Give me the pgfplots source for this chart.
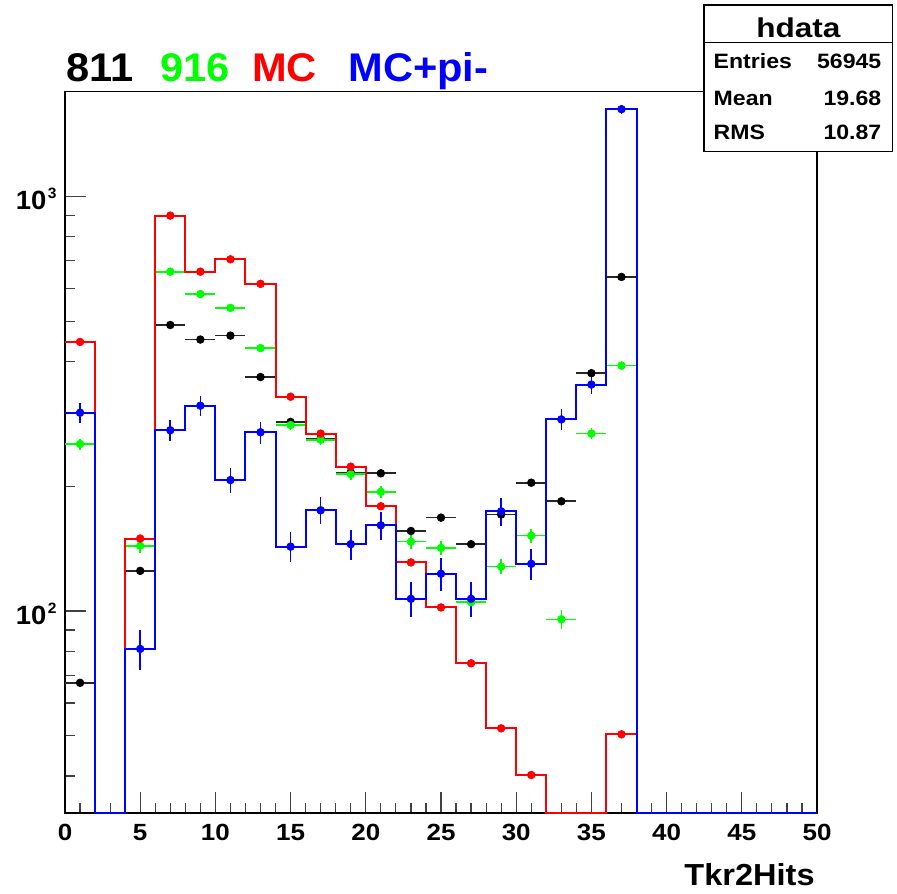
\documentclass[border=0pt]{standalone}
\usepackage{pgfplots}
\pgfplotsset{compat=1.18}
\usepackage{fontspec}
\setmainfont{Liberation Sans}
\newfontfamily\fA[FakeStretch=1.04]{Liberation Sans}
\newfontfamily\fB[FakeStretch=1.11]{Liberation Sans}
\newfontfamily\fC[FakeStretch=1.07]{Liberation Sans}
\newfontfamily\fD[FakeStretch=1.16]{Liberation Sans}
\definecolor{hred}{rgb}{1,0,0}
\definecolor{hblue}{rgb}{0,0,1}
\definecolor{hgreen}{rgb}{0,1,0}
\begin{document}
\begin{tikzpicture}
\begin{axis}[
  at={(0,0)}, anchor=south west,
  scale only axis, width=376pt, height=360.8pt,
  xmin=0, xmax=50, ymode=log, ymin=32.5, ymax=1792,
  clip=false,
  axis line style={line width=0.8pt},
  tick align=inside, xtick pos=left, ytick pos=left,
  xtick={0,5,10,15,20,25,30,35,40,45,50}, minor x tick num=4,
  xticklabels={0,5,10,15,20,25,30,35,40,45,50},
  ytick={100,1000},
  minor ytick={40,50,60,70,80,90,200,300,400,500,600,700,800,900},
  yticklabels={{10\kern0.8pt\raisebox{5.6pt}{\fontsize{7.5}{7.5}\selectfont 2}},{10\kern0.8pt\raisebox{5.6pt}{\fontsize{7.5}{7.5}\selectfont 3}}},
  major tick length=10.75pt, minor tick length=5.25pt,
  tick style={black!75, line width=0.6pt},
  xticklabel style={font=\fB\bfseries\fontsize{11.7}{12}\selectfont, anchor=north, inner sep=0pt, yshift=-5.35pt},
  yticklabel style={font=\fA\bfseries\fontsize{13.2}{13}\selectfont, anchor=base east, inner sep=0pt, xshift=-4pt, yshift=-6.65pt},
]
% 811 (black data points)
\addplot[only marks, mark=*, mark size=1.9pt, black,
  error bars/.cd, x dir=both, x fixed=1, y dir=both, y explicit, error mark=none,
  error bar style={line width=0.8pt, black!85}]
  table[x=x, y=y, y error=ey] {
x y ey
1 67.1 1.15
5 125 1.57
7 490 3.10
9 452 2.98
11 462 3.01
13 367 2.68
15 286 2.37
17 261 2.26
19 216 2.06
21 215 2.05
23 156 1.75
25 168 1.81
27 145 1.69
29 171 1.83
31 204 2.00
33 184 1.90
35 375 2.71
37 640 3.54
};
% 916 (green data points)
\addplot[only marks, mark=*, mark size=1.9pt, hgreen,
  error bars/.cd, x dir=both, x fixed=1, y dir=both, y explicit, error mark=none,
  error bar style={line width=0.8pt, hgreen}]
  table[x=x, y=y, y error=ey] {
x y ey
1 253 7.8
5 143.7 5.9
7 659 12.6
9 582 11.8
11 539 11.4
13 431 10.2
15 281 8.2
17 259 7.9
19 214 7.2
21 194 6.8
23 147 5.9
25 142 5.8
27 105 5.0
29 128 5.5
31 152 6.0
33 95.5 4.8
35 268 8.0
37 391 9.7
};
% MC (red histogram)
\addplot[draw=hred, line width=1pt, const plot, mark=none] coordinates {
(0,446)(2,32.5)(4,149.6)(6,900)(8,659)(10,706)(12,616)(14,329)(16,268)(18,223)
(20,179)(22,131)(24,102)(26,74.8)(28,52.1)(30,40.2)(32,32.5)(34,32.5)(36,50.4)(38,32.5)(50,32.5)};
\addplot[only marks, mark=*, mark size=1.9pt, hred,
  error bars/.cd, y dir=both, y explicit, error mark=none,
  error bar style={line width=0.8pt, hred}]
  table[x=x, y=y, y error=ey] {
x y ey
1 446 2.1
5 149.6 1.2
7 900 3.0
9 659 2.6
11 706 2.7
13 616 2.5
15 329 1.8
17 268 1.6
19 223 1.5
21 179 1.3
23 131 1.1
25 102 1.0
27 74.8 0.87
29 52.1 0.72
31 40.2 0.64
37 50.4 0.71
};
% MC+pi- (blue histogram)
\addplot[draw=hblue, line width=1pt, const plot, mark=none] coordinates {
(0,301)(2,32.5)(4,81)(6,273)(8,313)(10,207)(12,270)(14,143)(16,175)(18,145)
(20,161)(22,107)(24,123)(26,107)(28,174)(30,130)(32,290)(34,352)(36,1626)(38,32.5)(50,32.5)};
\addplot[only marks, mark=*, mark size=1.9pt, hblue,
  error bars/.cd, y dir=both, y explicit, error mark=none,
  error bar style={line width=0.8pt, hblue}]
  table[x=x, y=y, y error=ey] {
x y ey
1 301 17.3
5 81 9.0
7 273 16.5
9 313 17.7
11 207 14.4
13 270 16.4
15 143 12.0
17 175 13.2
19 145 12.0
21 161 12.7
23 107 10.3
25 123 11.1
27 107 10.3
29 174 13.2
31 130 11.4
33 290 17.0
35 352 18.8
37 1626 40.3
};
\end{axis}
% title
\node[anchor=base west, inner sep=0pt, font=\fA\bfseries\fontsize{20}{20}\selectfont, black] at (0.5pt,365.8pt) {811};
\node[anchor=base west, inner sep=0pt, font=\fA\bfseries\fontsize{20}{20}\selectfont, hgreen] at (47.65pt,365.8pt) {916};
\node[anchor=base west, inner sep=0pt, font=\fA\bfseries\fontsize{20}{20}\selectfont, hred] at (93.45pt,365.8pt) {MC};
\node[anchor=base west, inner sep=0pt, font=\fA\bfseries\fontsize{20}{20}\selectfont, hblue] at (141.5pt,365.8pt) {MC+pi-};
% x label
\node[anchor=base east, inner sep=0pt, font=\fC\bfseries\fontsize{15.2}{15}\selectfont] at (375pt,-35.85pt) {Tkr2Hits};
% stats box
\draw[fill=white, line width=0.6pt] (319.5pt,330.8pt) rectangle (413.85pt,404.15pt);
\draw[line width=0.6pt] (319.5pt,385.3pt) -- (413.85pt,385.3pt);
\node[anchor=base, inner sep=0pt, font=\fD\bfseries\fontsize{13.6}{13}\selectfont] at (366.7pt,388pt) {hdata};
\node[anchor=base west, inner sep=0pt, font=\fB\bfseries\fontsize{10.4}{10}\selectfont] at (324.15pt,372.15pt) {Entries};
\node[anchor=base east, inner sep=0pt, font=\fB\bfseries\fontsize{10.4}{10}\selectfont] at (408.35pt,372.15pt) {56945};
\node[anchor=base west, inner sep=0pt, font=\fB\bfseries\fontsize{10.4}{10}\selectfont] at (324.15pt,353.65pt) {Mean};
\node[anchor=base east, inner sep=0pt, font=\fB\bfseries\fontsize{10.4}{10}\selectfont] at (408.35pt,353.65pt) {19.68};
\node[anchor=base west, inner sep=0pt, font=\fB\bfseries\fontsize{10.4}{10}\selectfont] at (324.15pt,337pt) {RMS};
\node[anchor=base east, inner sep=0pt, font=\fB\bfseries\fontsize{10.4}{10}\selectfont] at (408.35pt,337pt) {10.87};
\pgfresetboundingbox
\useasboundingbox (-32.5pt,-39.85pt) rectangle (416pt,406.65pt);
\end{tikzpicture}
\end{document}
